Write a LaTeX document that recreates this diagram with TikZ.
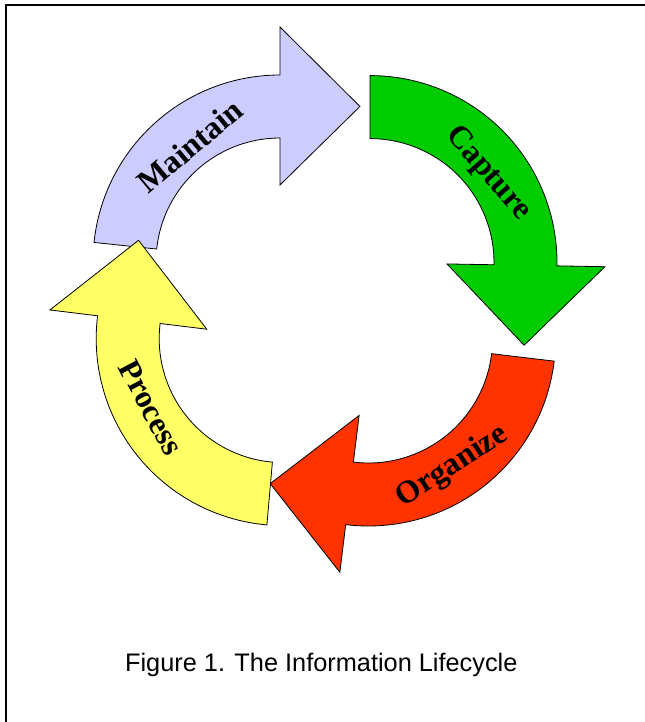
\documentclass[tikz,border=0pt]{standalone}
\usepackage{fontspec}
\setmainfont{Liberation Serif}
\setsansfont{Liberation Sans}
\usepackage{tikz}
\usetikzlibrary{positioning}

\definecolor{maintainfill}{HTML}{CCCCFF}
\definecolor{capturefill}{HTML}{00CC00}
\definecolor{organizefill}{HTML}{FF3300}
\definecolor{processfill}{HTML}{FFFF66}

\begin{document}
\begin{tikzpicture}[
    x=0.75pt, y=0.75pt,
    band/.style={
        draw=black,
        line width=0.6pt,
        line join=miter
    },
    lbl/.style={
        font=\fontsize{24}{28}\selectfont\bfseries,
        inner sep=0pt
    },
    caption/.style={
        font=\sffamily\fontsize{19}{23}\selectfont,
        inner sep=0pt,
        anchor=base
    },
    frame/.style={draw=black, line width=1.6pt}
]
\useasboundingbox (0,0) rectangle (645,722);

% page frame (left and top edges)
\draw[frame] (6,0) -- (6,717) -- (645,717);

% curved arrows, clockwise
\begin{scope}[shift={(280,460)}]
\draw[band, fill=maintainfill] (174:187) arc[start angle=174, end angle=90, radius=187]
    -- (90:235) -- (62.8:174.9) -- (90:77) -- (90:124)
    arc[start angle=90, end angle=174, radius=124] -- cycle;
\end{scope}

\begin{scope}[shift={(370,459.4)}]
\draw[band, fill=capturefill] (90:187) arc[start angle=90, end angle=-1, radius=187]
    -- (-1:235) -- (-28.2:174.9) -- (-1:77) -- (-1:124)
    arc[start angle=-1, end angle=90, radius=124] -- cycle;
\end{scope}

\begin{scope}[shift={(368.5,383)}]
\draw[band, fill=organizefill] (-6.8:187) arc[start angle=-6.8, end angle=-97, radius=187]
    -- (-97:235) -- (-124.2:174.9) -- (-97:77) -- (-97:124)
    arc[start angle=-97, end angle=-6.8, radius=124] -- cycle;
\end{scope}

\begin{scope}[shift={(283.2,383.4)}]
\draw[band, fill=processfill] (-95:187) arc[start angle=-95, end angle=-187, radius=187]
    -- (-187:235) -- (-214.2:174.9) -- (-187:77) -- (-187:124)
    arc[start angle=-187, end angle=-95, radius=124] -- cycle;
\end{scope}

% stage labels
\node[lbl, rotate=40] (maintain) at (190,576) {Maintain};
\node[lbl, rotate=-49] (capture) at (488,548) {Capture};
\node[lbl, rotate=33] (organize) at (452.5,255.3) {Organize};
\node[lbl, rotate=-62] (process) at (151,314.5) {Process};

% caption
\node[caption] (title) at (321.3,50.3) {Figure 1. The Information Lifecycle};

\end{tikzpicture}
\end{document}
